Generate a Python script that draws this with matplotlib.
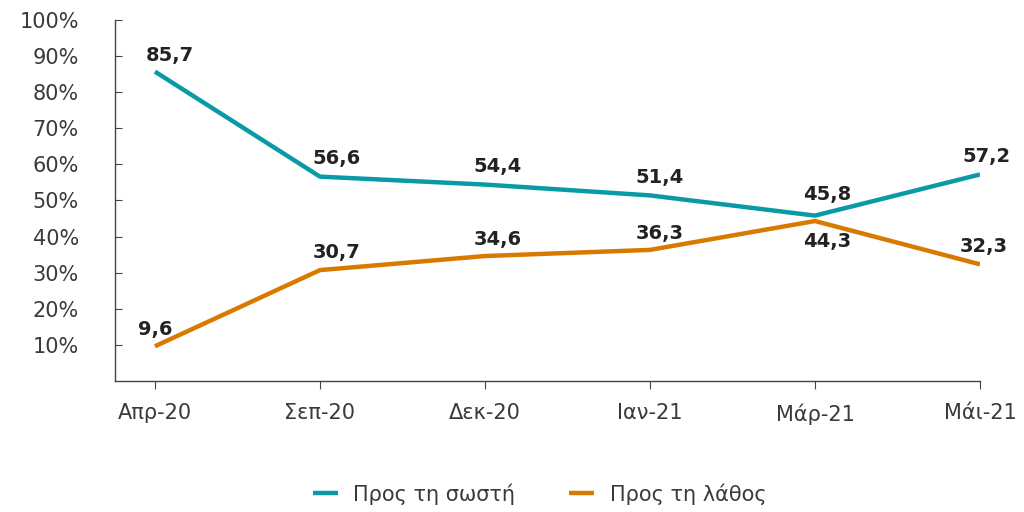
import matplotlib.pyplot as plt

plt.rcParams["font.family"] = ["DejaVu Sans"]

months = ["Απρ-20", "Σεπ-20", "Δεκ-20", "Ιαν-21", "Μάρ-21", "Μάι-21"]
correct = [85.7, 56.6, 54.4, 51.4, 45.8, 57.2]
wrong = [9.6, 30.7, 34.6, 36.3, 44.3, 32.3]
y_ticks = [10, 20, 30, 40, 50, 60, 70, 80, 90, 100]

TEAL = "#0A9AA6"
ORANGE = "#D97A00"
TEXT = "#222222"
AXIS = "#444444"


def fmt(v):
    return f"{v:.1f}".replace(".", ",")


fig = plt.figure(figsize=(10.24, 5.12), dpi=100)
ax = fig.add_axes([0.1123, 0.256, 0.8447, 0.705])

x = list(range(len(months)))
ax.plot(x, correct, color=TEAL, linewidth=3.2, label="Προς τη σωστή", solid_capstyle="butt")
ax.plot(x, wrong, color=ORANGE, linewidth=3.2, label="Προς τη λάθος", solid_capstyle="butt")

# value labels, offsets in points from the data point
correct_off = [(11, 5), (12, 6), (9, 6), (7, 6), (9, 8), (5, 6)]
wrong_off = [(0, 5), (12, 6), (9, 5), (7, 5), (9, -8), (3, 6)]
for xi, v, off in zip(x, correct, correct_off):
    ax.annotate(fmt(v), (xi, v), xytext=off, textcoords="offset points",
                ha="center", va="bottom", fontsize=14, fontweight="bold", color=TEXT)
for xi, v, off in zip(x, wrong, wrong_off):
    va = "top" if off[1] < 0 else "bottom"
    ax.annotate(fmt(v), (xi, v), xytext=off, textcoords="offset points",
                ha="center", va=va, fontsize=14, fontweight="bold", color=TEXT)

ax.set_xlim(-0.242, 5.0)
ax.set_ylim(0, 100)
ax.set_yticks(y_ticks)
ax.set_yticklabels([f"{t}%" for t in y_ticks])
ax.set_xticks(x)
ax.set_xticklabels(months)

for side in ["top", "right"]:
    ax.spines[side].set_visible(False)
for side in ["left", "bottom"]:
    ax.spines[side].set_color(AXIS)
    ax.spines[side].set_linewidth(1.0)

ax.tick_params(axis="y", direction="in", length=5, color=AXIS, pad=26,
               labelsize=15, labelcolor="#3a3a3a")
ax.tick_params(axis="x", direction="out", length=6, color=AXIS, pad=10,
               labelsize=15, labelcolor="#3a3a3a")

fig.legend(loc="lower center", bbox_to_anchor=(0.527, -0.022), ncol=2, frameon=False,
           fontsize=15, handlelength=1.2, columnspacing=2.6, handletextpad=0.75,
           labelcolor="#3a3a3a")

fig.savefig("out.png", dpi=100)
